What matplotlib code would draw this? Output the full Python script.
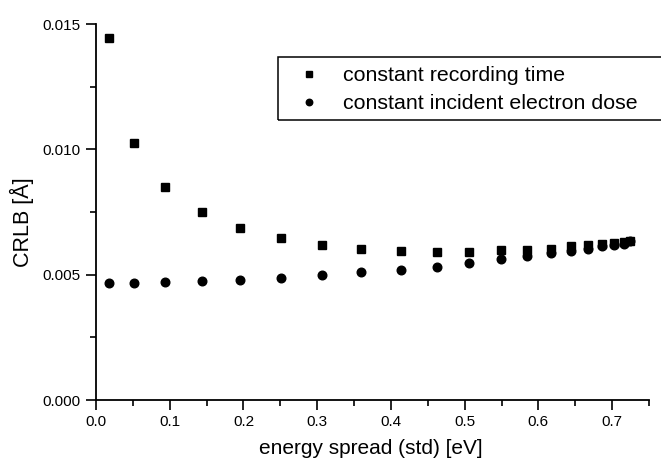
import matplotlib
matplotlib.use("Agg")
import matplotlib.pyplot as plt
from matplotlib.patches import Rectangle

plt.rcParams['font.family'] = ['Liberation Sans', 'DejaVu Sans']

# energy spread (std) [eV]
energy_spread = [0.0176, 0.0512, 0.094, 0.1434, 0.1958, 0.2514, 0.3066, 0.360,
                 0.413, 0.462, 0.5065, 0.5486, 0.5844, 0.6174, 0.6445, 0.6672,
                 0.6862, 0.7028, 0.7155, 0.7246]
# CRLB [A]
crlb_const_time = [0.01443, 0.01027, 0.00848, 0.0075, 0.00685, 0.00645, 0.00618,
                   0.00604, 0.00593, 0.0059, 0.00592, 0.00597, 0.0060, 0.00604,
                   0.00613, 0.0062, 0.00624, 0.00628, 0.0063, 0.00634]
crlb_const_dose = [0.00468, 0.00468, 0.00472, 0.00476, 0.0048, 0.00486, 0.00497,
                   0.00509, 0.00518, 0.00532, 0.00546, 0.00561, 0.00574, 0.00588,
                   0.00595, 0.00601, 0.00613, 0.00617, 0.00624, 0.00633]
labels = ["constant recording time", "constant incident electron dose"]

fig = plt.figure(figsize=(6.61, 4.59), dpi=100)
ax = fig.add_axes([96 / 661, 1 - 400 / 459, 553 / 661, 376 / 459])

ax.plot(energy_spread, crlb_const_time, linestyle='none', marker='s',
        markersize=5.8, color='black', label=labels[0])
ax.plot(energy_spread, crlb_const_dose, linestyle='none', marker='o',
        markersize=6.2, color='black', label=labels[1])

ax.set_xlim(0, 0.75)
ax.set_ylim(0, 0.015)
ax.set_xticks([0.0, 0.1, 0.2, 0.3, 0.4, 0.5, 0.6, 0.7])
ax.set_xticks([0.05, 0.15, 0.25, 0.35, 0.45, 0.55, 0.65, 0.75], minor=True)
ax.set_yticks([0.0, 0.005, 0.010, 0.015])
ax.set_yticks([0.0025, 0.0075, 0.0125], minor=True)
ax.set_xticklabels(["0.0", "0.1", "0.2", "0.3", "0.4", "0.5", "0.6", "0.7"])
ax.set_yticklabels(["0.000", "0.005", "0.010", "0.015"])

for side in ['top', 'right']:
    ax.spines[side].set_visible(False)
for side in ['left', 'bottom']:
    ax.spines[side].set_linewidth(1.3)
ax.tick_params(which='major', direction='out', length=7, width=1.2,
               labelsize=11, pad=4)
ax.tick_params(which='minor', direction='out', length=4, width=1.2)

ax.set_xlabel("energy spread (std) [eV]", fontsize=15)
ax.xaxis.set_label_coords(0.497, -0.105)
ax.set_ylabel("CRLB [Å]", fontsize=15.5)
ax.yaxis.set_label_coords(-0.112, 0.472)

leg = ax.legend(loc='upper left', bbox_to_anchor=(298 / 661, 1 - 66 / 459),
                bbox_transform=fig.transFigure, frameon=False, fontsize=15.4,
                handlelength=1.0, handletextpad=1.09, labelspacing=0.43,
                borderaxespad=0, borderpad=0, markerscale=0.75)
# legend frame runs off the right edge of the figure
fig.patches.append(Rectangle((278 / 661, 1 - 119.5 / 459), 400 / 661, 62 / 459,
                             transform=fig.transFigure, fill=False,
                             edgecolor='black', linewidth=1.1))

fig.savefig("out.png", dpi=100)
